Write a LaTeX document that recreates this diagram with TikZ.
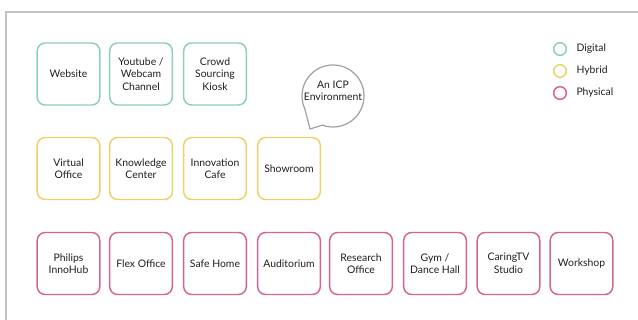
\documentclass[tikz,border=0pt]{standalone}
\usepackage{fontspec}
\setmainfont{Lato}
\tikzset{every picture/.style={line width=0.75pt}}
\tikzset{
  box/.style={rectangle, rounded corners=6pt, line width=1.1pt, minimum width=47pt, minimum height=46.5pt, inner sep=1pt, align=center, font=\fontsize{7.8}{9.4}\selectfont, text={rgb, 255:red, 30; green, 30; blue, 30 }},
  digital/.style={box, draw={rgb, 255:red, 138; green, 208; blue, 188 }},
  hybrid/.style={box, draw={rgb, 255:red, 238; green, 208; blue, 102 }},
  physical/.style={box, draw={rgb, 255:red, 214; green, 98; blue, 150 }},
  keydot/.style={circle, line width=1.1pt, minimum size=9.5pt, inner sep=0pt},
  keytext/.style={anchor=west, inner sep=0.75pt, font=\fontsize{7.8}{9.4}\selectfont, text={rgb, 255:red, 30; green, 30; blue, 30 }},
}
\begin{document}
\begin{tikzpicture}[x=0.75pt,y=0.75pt,yscale=-1,xscale=1]
    \useasboundingbox (0,0) rectangle (638,320);

    %Shape: Frame
    \draw [color={rgb, 255:red, 195; green, 195; blue, 195 }, line width=1.5pt] (638,12) -- (6,12) -- (6,320) ;

    % Digital row
    \node [digital] (website) at (68.5,74) {Website};
    \node [digital] (youtube) at (141,74) {Youtube /\\Webcam\\Channel};
    \node [digital] (crowd) at (215,74) {Crowd\\Sourcing\\Kiosk};

    % Hybrid row
    \node [hybrid] (virtual) at (68.5,168.5) {Virtual\\Office};
    \node [hybrid] (knowledge) at (141,168.5) {Knowledge\\Center};
    \node [hybrid] (innovation) at (215,168.5) {Innovation\\Cafe};
    \node [hybrid] (showroom) at (289,168.5) {Showroom};

    % Physical row
    \node [physical] (philips) at (68.5,263.5) {Philips\\InnoHub};
    \node [physical] (flex) at (141,263.5) {Flex Office};
    \node [physical] (safehome) at (215,263.5) {Safe Home};
    \node [physical] (auditorium) at (289,263.5) {Auditorium};
    \node [physical] (research) at (361,263.5) {Research\\Office};
    \node [physical] (gym) at (435,263.5) {Gym /\\Dance Hall};
    \node [physical] (caringtv) at (508.5,263.5) {CaringTV\\Studio};
    \node [physical] (workshop) at (581.5,263.5) {Workshop};

    %Shape: Speech bubble
    \draw [color={rgb, 255:red, 160; green, 160; blue, 160 }, line width=0.9pt] (322.4,125.1) arc [start angle=110, end angle=-205, radius=31] -- (310,129) -- cycle ;
    % Text Node
    \node [keytext, anchor=center, align=center] (icp) at (333,91) {An ICP\\Environment};

    % Legend
    \node [keydot, draw={rgb, 255:red, 138; green, 208; blue, 188 }] (kdigital) at (560,49) {};
    \node [keydot, draw={rgb, 255:red, 238; green, 208; blue, 102 }] (khybrid) at (560,71) {};
    \node [keydot, draw={rgb, 255:red, 214; green, 98; blue, 150 }] (kphysical) at (560,93) {};
    \node [keytext] (tdigital) at (575,49) {Digital};
    \node [keytext] (thybrid) at (575,71) {Hybrid};
    \node [keytext] (tphysical) at (575,93) {Physical};

\end{tikzpicture}
\end{document}
